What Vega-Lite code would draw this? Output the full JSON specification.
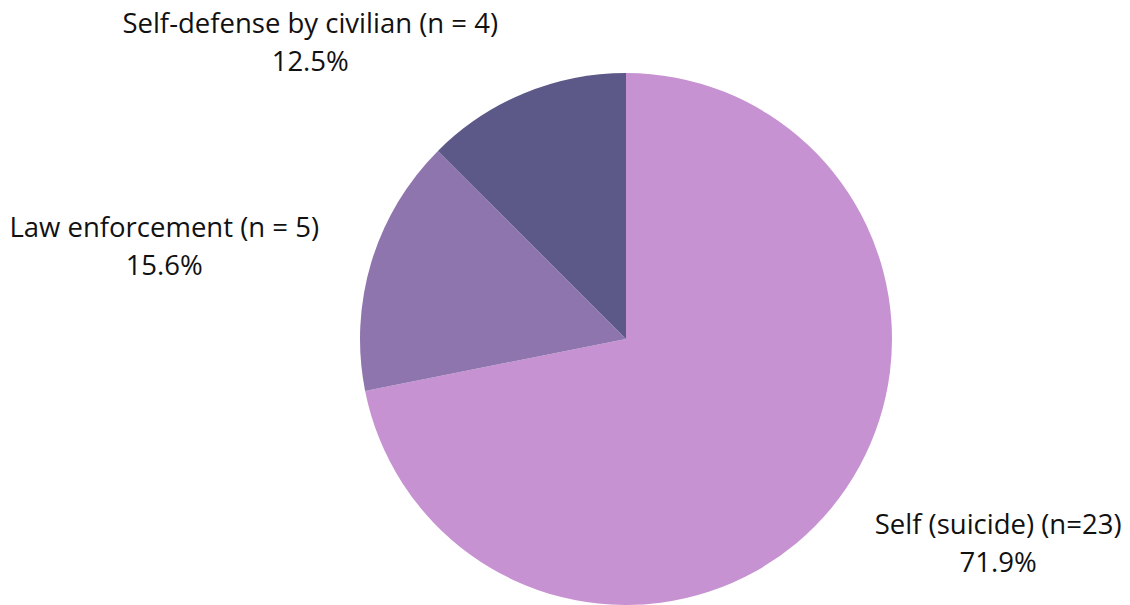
{
  "$schema": "https://vega.github.io/schema/vega-lite/v6.json",
  "autosize": {"type": "none"},
  "width": 532,
  "height": 532,
  "padding": {"left": 360, "top": 73, "right": 238, "bottom": 0},
  "background": "white",
  "view": {"stroke": null},
  "data": {
    "values": [
      {"idx": 1, "cause": "Self (suicide)", "n": 23, "label": "Self (suicide) (n=23)\n71.9%"},
      {"idx": 2, "cause": "Law enforcement", "n": 5, "label": "Law enforcement (n = 5)\n15.6%"},
      {"idx": 3, "cause": "Self-defense by civilian", "n": 4, "label": "Self-defense by civilian (n = 4)\n12.5%"}
    ]
  },
  "encoding": {
    "theta": {"field": "n", "type": "quantitative", "stack": true},
    "order": {"field": "idx", "type": "quantitative"}
  },
  "layer": [
    {
      "mark": {"type": "arc", "outerRadius": 266},
      "encoding": {
        "color": {
          "field": "cause",
          "type": "nominal",
          "scale": {
            "domain": ["Self (suicide)", "Law enforcement", "Self-defense by civilian"],
            "range": ["#C792D1", "#8E75AD", "#5C5888"]
          },
          "legend": null
        }
      }
    },
    {
      "mark": {"type": "text", "radius": 418, "dx": 49, "dy": -78, "font": "Open Sans", "fontSize": 27.5, "lineBreak": "\n", "lineHeight": 38, "baseline": "middle", "align": "center", "color": "#111111"},
      "encoding": {
        "text": {"condition": {"test": "datum.idx === 1", "field": "label"}, "value": ""}
      }
    },
    {
      "mark": {"type": "text", "radius": 469, "dx": -13, "dy": 26, "font": "Open Sans", "fontSize": 27.5, "lineBreak": "\n", "lineHeight": 38, "baseline": "middle", "align": "center", "color": "#111111"},
      "encoding": {
        "text": {"condition": {"test": "datum.idx === 2", "field": "label"}, "value": ""}
      }
    },
    {
      "mark": {"type": "text", "radius": 394, "dx": -165, "dy": 50, "font": "Open Sans", "fontSize": 27.5, "lineBreak": "\n", "lineHeight": 38, "baseline": "middle", "align": "center", "color": "#111111"},
      "encoding": {
        "text": {"condition": {"test": "datum.idx === 3", "field": "label"}, "value": ""}
      }
    }
  ]
}
